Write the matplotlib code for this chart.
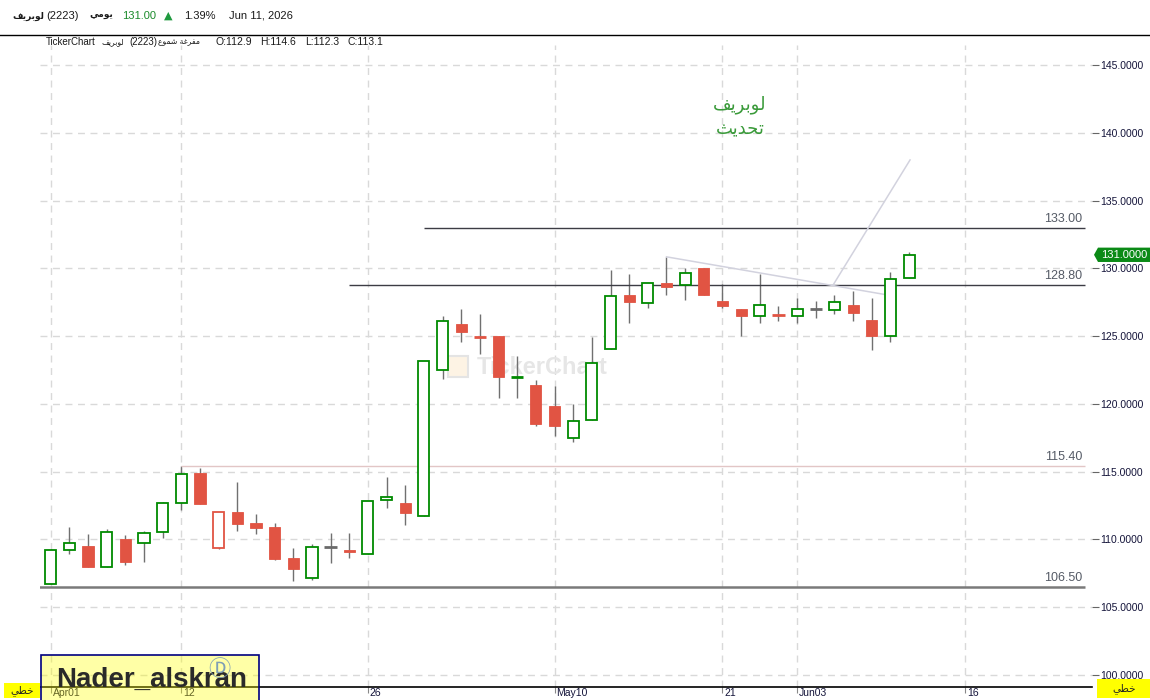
import matplotlib
matplotlib.use("Agg")
import numpy as np
import pandas as pd
import matplotlib.pyplot as plt
from matplotlib.patches import Rectangle, Polygon
from matplotlib.lines import Line2D
from matplotlib.transforms import blended_transform_factory, ScaledTranslation

# daily candles, Apr 01 -> Jun 11 2026
opens = [106.7, 109.2, 109.55, 108.0, 110.05, 109.7, 110.55, 112.7, 114.9, 109.4,
         112.0, 111.2, 110.9, 108.65, 107.15, 109.45, 109.2, 108.95, 112.9, 112.65,
         111.7, 122.5, 125.9, 125.0, 125.0, 122.0, 121.4, 119.85, 117.5, 118.8,
         124.05, 128.05, 127.45, 128.95, 128.8, 130.05, 127.6, 127.0, 126.5, 126.6,
         126.5, 127.0, 126.9, 127.3, 126.2, 125.0, 129.3]
highs = [109.3, 110.9, 110.4, 110.75, 110.35, 110.6, 112.75, 115.4, 115.25, 112.0,
         114.2, 111.85, 111.2, 109.4, 109.65, 110.45, 110.5, 112.85, 114.6, 114.05,
         123.2, 126.5, 127.0, 126.6, 125.0, 123.55, 121.75, 121.3, 120.0, 124.9,
         129.9, 129.6, 128.95, 130.85, 130.05, 130.05, 128.85, 127.0, 129.55, 127.25,
         127.8, 127.6, 128.05, 128.35, 127.8, 129.75, 131.2]
lows = [106.7, 108.9, 108.0, 108.0, 108.1, 108.3, 110.1, 112.15, 112.6, 109.3,
        110.6, 110.4, 108.45, 106.9, 107.0, 108.25, 108.6, 108.95, 112.3, 111.05,
        111.7, 121.8, 124.6, 123.7, 120.4, 120.45, 118.4, 117.65, 117.2, 118.8,
        124.05, 126.0, 127.05, 128.0, 127.7, 128.0, 127.1, 125.0, 126.0, 126.1,
        126.0, 126.3, 126.6, 126.1, 124.0, 124.6, 129.3]
closes = [109.2, 109.75, 108.0, 110.55, 108.3, 110.5, 112.65, 114.8, 112.6, 112.0,
          111.15, 110.85, 108.55, 107.8, 109.45, 109.45, 109.05, 112.85, 113.1, 111.95,
          123.2, 126.1, 125.3, 124.95, 121.95, 122.02, 118.55, 118.4, 118.7, 123.0,
          127.95, 127.5, 128.9, 128.6, 129.65, 128.0, 127.25, 126.45, 127.3, 126.55,
          127.0, 127.0, 127.5, 126.7, 125.0, 129.2, 131.0]

holidays = ["2026-05-27", "2026-05-28", "2026-05-31", "2026-06-01", "2026-06-02"]
tick_dates = ["2026-04-01", "2026-04-12", "2026-04-26", "2026-05-10",
              "2026-05-21", "2026-06-03", "2026-06-16"]
tick_labels = ["Apr01", "12", "26", "May10", "21", "Jun03", "16"]

yticks = [100, 105, 110, 115, 120, 125, 130, 135, 140, 145]

# horizontal levels drawn on the chart and the bar where each starts
levels = [133.00, 128.80, 115.40, 106.50]
level_start = [20, 16, 7, -0.6]
level_colors = ["#3c3c44", "#3c3c44", "#e2c6c6", "#7a7a7a"]
level_widths = [1.0, 1.0, 1.0, 1.8]

# two trendlines: (bar, price) pairs
trend_down = [(33, 130.85), (45, 128.0)]
trend_up = [(41.94, 128.8), (46.05, 138.0)]

# arabic in presentation forms, visual order
LUBRIF = "\uFED2\uFEF3\uFEAE\uFE91\uFEEE\uFEDF"
TAHDITH = "\uFE9A\uFEF3\uFEAA\uFEA4\uFE97"
YAWMI = "\uFEF2\uFEE3\uFEEE\uFEF3"
KHATTI = "\uFEF2\uFEC4\uFEA7"
SHUMU = "\uFEC9\uFEEE\uFEE4\uFEB7"
MUFARRAGHA = "\uFE94\uFECF\uFEAE\uFED4\uFEE3"

GREEN = "#008a00"
RED = "#e15443"
WICK = "#707070"
ARFONT = ["DejaVu Sans"]
LAT = ["Liberation Sans", "DejaVu Sans"]

days = pd.bdate_range("2026-04-01", "2026-06-25", freq="C",
                      weekmask="Sun Mon Tue Wed Thu", holidays=holidays)
pos = {d.strftime("%Y-%m-%d"): i for i, d in enumerate(days)}

W, H = 1150, 700
fig = plt.figure(figsize=(W / 100, H / 100), dpi=100)
ax = fig.add_axes([40 / W, 13 / H, 1052 / W, 642 / H])
ax.set_xlim(-0.57, 55.8)
ax.set_ylim(99.11, 146.48)

# candles
n = len(closes)
for i in range(n):
    o, h, l, c = opens[i], highs[i], lows[i], closes[i]
    prev = closes[i - 1] if i > 0 else o
    if c > prev:
        col = GREEN
    elif c < prev:
        col = RED
    else:
        col = "#6a6a6a"
    ax.vlines(i, l, h, color=WICK, lw=1, zorder=2)
    if abs(c - o) < 0.06:
        ax.hlines(c, i - 0.33, i + 0.33, color=col, lw=2, zorder=3)
    elif c > o:
        ax.add_patch(Rectangle((i - 0.3, o), 0.6, c - o, fc="white", ec=col,
                               lw=1.3, zorder=3))
    else:
        ax.add_patch(Rectangle((i - 0.3, c), 0.6, o - c, fc=col, ec=col,
                               lw=0.6, zorder=3))

# levels
for lv, st, lc, lw in zip(levels, level_start, level_colors, level_widths):
    ax.hlines(lv, st, 55.43, color=lc, lw=lw, zorder=2.5)
    ax.annotate(f"{lv:.2f}", (55.3, lv), xytext=(0, 3), textcoords="offset pixels",
                ha="right", va="bottom", fontsize=9, color="#555b66", family=LAT)

for tl in (trend_down, trend_up):
    xs, ys = zip(*tl)
    ax.plot(xs, ys, color="#d2d2de", lw=1.1, zorder=2.5)

# note text
ax.text(36.94, 142.1, LUBRIF, ha="center", va="center", fontsize=13,
        color="#3a9a3a", family=ARFONT)
ax.text(36.94, 140.25, TAHDITH, ha="center", va="center", fontsize=13,
        color="#3a9a3a", family=ARFONT)

# watermark
ax.text(0.4154, 0.498, "TickerChart", transform=ax.transAxes, fontsize=17,
        fontweight="bold", color="#e6e6e6", ha="left", va="center",
        family=LAT, zorder=1)
ax.add_patch(Rectangle((0.388, 0.4833), 0.019, 0.033, transform=ax.transAxes,
                       fc="#fdf3e4", ec="#e4e4e4", lw=1.5, zorder=1))

# axes styling
ax.grid(True, color="#d9d9d9", ls=(0, (5, 4)), lw=1)
ax.set_axisbelow(True)
for s in ("top", "left", "right"):
    ax.spines[s].set_visible(False)
ax.spines["bottom"].set_color("black")
ax.spines["bottom"].set_linewidth(1.2)

ax.yaxis.tick_right()
ax.set_yticks(yticks)
ax.set_yticklabels([f"{v:.4f}" for v in yticks], family=LAT)
ax.tick_params(axis="y", length=5, color="#666666", labelsize=7.5,
               labelcolor="#14143a", pad=1)
ax.set_xticks([pos[d] for d in tick_dates])
ax.set_xticklabels(tick_labels, ha="left", family=LAT)
ax.tick_params(axis="x", length=4, color="#888888", labelsize=7.5,
               labelcolor="#14143a", pad=-3)
shift = ScaledTranslation(2 / 100, 0, fig.dpi_scale_trans)
for lab in ax.get_xticklabels():
    lab.set_transform(lab.get_transform() + shift)

# last price tag
tr = blended_transform_factory(fig.transFigure, ax.transData)
last = closes[-1]
ax.add_patch(Polygon([(1094 / W, last), (1098 / W, last + 0.53), (1.0, last + 0.53),
                      (1.0, last - 0.53), (1098 / W, last - 0.53)],
                     closed=True, transform=tr, fc="#0b8a16", ec="none",
                     clip_on=False, zorder=5))
ax.text(1124 / W, last, f"{last:.4f}", transform=tr, ha="center", va="center",
        color="white", fontsize=8, family=LAT, zorder=6, clip_on=False)

# header
def ftxt(x, y, s, **kw):
    kw.setdefault("family", LAT)
    kw.setdefault("fontsize", 8)
    kw.setdefault("color", "#1a1a1a")
    fig.text(x / W, 1 - y / H, s, va="center", **kw)

ftxt(12, 16, LUBRIF, family=ARFONT, fontweight="bold", fontsize=6.5)
ftxt(46, 16, "(2223)")
ftxt(89, 16, YAWMI, family=ARFONT, fontweight="bold", fontsize=6.5)
ftxt(122, 16, "131.00", color="#1a8a2a")
ftxt(164, 16, "\u25B2", color="#1f9a3f", family=["DejaVu Sans"], fontsize=8)
ftxt(184, 16, "1.39%")
ftxt(229, 16, "Jun 11, 2026")
fig.add_artist(Line2D([0, 1], [1 - 35 / H] * 2, color="black", lw=1))

ftxt(46, 42, "TickerChart", fontsize=7)
ftxt(102, 42, LUBRIF, family=ARFONT, fontsize=5.5)
ftxt(129, 42, "(2223)", fontsize=7)
ftxt(158, 42, SHUMU + " " + MUFARRAGHA, family=ARFONT, fontsize=5.5)
for xx, s in zip([216, 260, 305, 347], ["O:112.9", "H:114.6", "L:112.3", "C:113.1"]):
    ftxt(xx, 42, s, fontsize=7.5)

# bottom tags
fig.add_artist(Rectangle((4 / W, 2 / H), 36 / W, 15 / H, transform=fig.transFigure,
                         fc="#ffff00", ec="none"))
fig.text(22 / W, 9 / H, KHATTI, ha="center", va="center", fontsize=7.5,
         family=ARFONT, color="#222222")
fig.add_artist(Rectangle((1097 / W, 2 / H), 53 / W, 19 / H, transform=fig.transFigure,
                         fc="#ffff00", ec="none"))
fig.text(1124 / W, 11 / H, KHATTI, ha="center", va="center", fontsize=7.5,
         family=ARFONT, color="#222222")

# signature box
fig.add_artist(Rectangle((41 / W, -0.01), 218 / W, 45 / H + 0.01,
                         transform=fig.transFigure, fc=(1, 1, 0, 0.35),
                         ec="#000080", lw=1.2, zorder=10))
fig.text(56 / W, 13 / H, "Nader_alskran", fontsize=20, fontweight="bold",
         color="#2a2a2a", family=LAT, va="baseline", zorder=11)
fig.text(219 / W, 30 / H, "\u24B9", fontsize=16, color="#7f9fb5",
         family=["DejaVu Sans", "Noto Sans CJK SC"], ha="center", va="center",
         zorder=11)

fig.savefig("out.png", dpi=100)
